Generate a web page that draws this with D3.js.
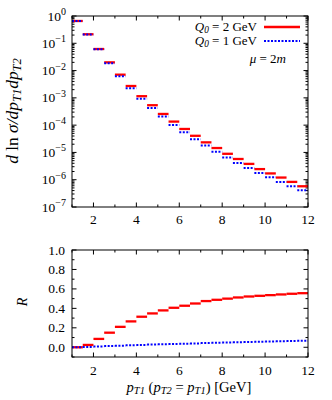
<!DOCTYPE html>
<html><head><meta charset="utf-8">
<script src="https://cdn.jsdelivr.net/npm/d3@7"></script>
<style>
body{margin:0;background:#fff}
svg{display:block}
text{font-family:"Liberation Serif","Times New Roman",serif;fill:#000}
</style>
</head><body>
<svg id="c" width="332" height="400"></svg>
<script>
// ---- data ----
const binLo = [1,1.5,2,2.5,3,3.5,4,4.5,5,5.5,6,6.5,7,7.5,8,8.5,9,9.5,10,10.5,11,11.5];
const binHi = [1.5,2,2.5,3,3.5,4,4.5,5,5.5,6,6.5,7,7.5,8,8.5,9,9.5,10,10.5,11,11.5,12];
const sigmaQ2 = [0.656,0.214,0.0617,0.0200,0.00708,0.00272,0.00115,5.37e-4,2.57e-4,1.35e-4,7.24e-5,4.07e-5,2.34e-5,1.45e-5,8.91e-6,5.75e-6,3.80e-6,2.45e-6,1.70e-6,1.20e-6,8.32e-7,5.75e-7];
const sigmaQ1 = [0.656,0.209,0.0603,0.0186,0.00617,0.00224,9.33e-4,4.27e-4,2.09e-4,1.02e-4,5.50e-5,3.02e-5,1.78e-5,1.05e-5,6.46e-6,4.07e-6,2.69e-6,1.78e-6,1.23e-6,8.32e-7,5.75e-7,4.07e-7];
const ratioQ2 = [0.0,0.024,0.086,0.15,0.21,0.266,0.314,0.348,0.379,0.406,0.427,0.45,0.475,0.488,0.50,0.512,0.522,0.529,0.536,0.543,0.55,0.556];
const ratioQ1 = [0.0,0.004,0.008,0.012,0.016,0.02,0.024,0.028,0.031,0.034,0.037,0.04,0.043,0.046,0.049,0.052,0.055,0.057,0.06,0.062,0.064,0.066];
const xTicks = [2,4,6,8,10,12];
const xMinor = [1,3,5,7,9,11];
const yLogExps = [0,-1,-2,-3,-4,-5,-6,-7];
const rTicks = [0.0,0.2,0.4,0.6,0.8,1.0];
const rMinor = [-0.1,0.1,0.3,0.5,0.7,0.9];
const legendLabels = ["2 GeV","1 GeV"];

// ---- layout ----
const L = 72, R = 308;
const top1 = 16, bot1 = 207;
const top2 = 250, bot2 = 357;
const RED = "#ff0000", BLUE = "#0000ff";
const FS = 13.5;

const svg = d3.select("#c");
const x = d3.scaleLinear().domain([1,12]).range([L,R]);
const y1 = d3.scaleLog().domain([1e-7,1]).range([bot1,top1]);
const y2 = d3.scaleLinear().domain([-0.1,1.0]).range([bot2,top2]);

const g = svg.append("g");

function fit(sel, target){
  const w = sel.node().getBBox().width;
  const fs = parseFloat(sel.attr("font-size"));
  sel.attr("font-size", fs*target/w);
}
function sub(t, s){
  t.append("tspan").attr("dy","0.22em").attr("font-size","0.72em").attr("font-style","italic").text(s);
}
function unsub(t, s, italic){
  const ts = t.append("tspan").attr("dy","-0.16em").text(s);
  if(italic) ts.attr("font-style","italic");
}

function xAxisTicks(yTop, yBot){
  xTicks.forEach(t=>{
    g.append("line").attr("x1",x(t)).attr("x2",x(t)).attr("y1",yBot).attr("y2",yBot-4.5).attr("stroke","#000");
    g.append("line").attr("x1",x(t)).attr("x2",x(t)).attr("y1",yTop).attr("y2",yTop+4.5).attr("stroke","#000");
  });
  xMinor.forEach(t=>{
    g.append("line").attr("x1",x(t)).attr("x2",x(t)).attr("y1",yBot).attr("y2",yBot-2.5).attr("stroke","#000");
    g.append("line").attr("x1",x(t)).attr("x2",x(t)).attr("y1",yTop).attr("y2",yTop+2.5).attr("stroke","#000");
  });
}
function xLabels(yb){
  xTicks.forEach(t=>{
    g.append("text").attr("x",x(t)).attr("y",yb).attr("text-anchor","middle").attr("font-size",FS).text(t);
  });
}

// ---- top panel ----
yLogExps.forEach(e=>{
  const v = Math.pow(10,e);
  const yy = y1(v);
  g.append("line").attr("x1",L).attr("x2",L+4.5).attr("y1",yy).attr("y2",yy).attr("stroke","#000");
  g.append("line").attr("x1",R).attr("x2",R-4.5).attr("y1",yy).attr("y2",yy).attr("stroke","#000");
  if(e>-7){
    for(let k=2;k<=9;k++){
      const ym = y1(k*v/10);
      g.append("line").attr("x1",L).attr("x2",L+2.5).attr("y1",ym).attr("y2",ym).attr("stroke","#000");
      g.append("line").attr("x1",R).attr("x2",R-2.5).attr("y1",ym).attr("y2",ym).attr("stroke","#000");
    }
  }
  const t = g.append("text").attr("x",66).attr("y",yy+4.5).attr("text-anchor","end").attr("font-size",FS);
  t.append("tspan").text("10");
  t.append("tspan").attr("dy",-5.5).attr("font-size",10).text(e===0?"0":"\u2212"+(-e));
});
xAxisTicks(top1,bot1);
xLabels(224);

binLo.forEach((lo,i)=>{
  g.append("line").attr("x1",x(lo)).attr("x2",x(binHi[i])).attr("y1",y1(sigmaQ2[i])).attr("y2",y1(sigmaQ2[i]))
    .attr("stroke",RED).attr("stroke-width",2.3);
});
binLo.forEach((lo,i)=>{
  g.append("line").attr("x1",x(lo)).attr("x2",x(binHi[i])).attr("y1",y1(sigmaQ1[i])).attr("y2",y1(sigmaQ1[i]))
    .attr("stroke",BLUE).attr("stroke-width",2).attr("stroke-dasharray","2,1.5");
});

g.append("rect").attr("x",L).attr("y",top1).attr("width",R-L).attr("height",bot1-top1)
  .attr("fill","none").attr("stroke","#000").attr("stroke-width",1);

// legend
[0,1].forEach(i=>{
  const yy = i===0?27:41;
  const t = g.append("text").attr("x",257).attr("y",yy+4).attr("text-anchor","end").attr("font-size",13);
  t.append("tspan").attr("font-style","italic").text("Q");
  sub(t,"0");
  unsub(t," = "+legendLabels[i]);
  g.append("line").attr("x1",264).attr("x2",300).attr("y1",yy).attr("y2",yy)
    .attr("stroke",i===0?RED:BLUE).attr("stroke-width",i===0?2.3:2).attr("stroke-dasharray",i===0?null:"2,1.5");
});
{
  const t = g.append("text").attr("x",286).attr("y",63).attr("text-anchor","end").attr("font-size",13);
  t.append("tspan").attr("font-style","italic").text("\u03bc");
  t.append("tspan").text(" = 2");
  t.append("tspan").attr("font-style","italic").text("m");
}

// y label top
{
  const t = g.append("text").attr("transform","translate(18,111) rotate(-90)").attr("text-anchor","middle").attr("font-size",FS);
  t.append("tspan").attr("font-style","italic").text("d");
  t.append("tspan").text(" ln ");
  t.append("tspan").attr("font-style","italic").text("\u03c3/dp");
  sub(t,"T1");
  unsub(t,"dp",true);
  sub(t,"T2");
  fit(t,106);
}

// ---- bottom panel ----
rTicks.forEach(v=>{
  const yy = y2(v);
  g.append("line").attr("x1",L).attr("x2",L+4.5).attr("y1",yy).attr("y2",yy).attr("stroke","#000");
  g.append("line").attr("x1",R).attr("x2",R-4.5).attr("y1",yy).attr("y2",yy).attr("stroke","#000");
  g.append("text").attr("x",65).attr("y",yy+4.5).attr("text-anchor","end").attr("font-size",FS).text(v.toFixed(1));
});
rMinor.forEach(v=>{
  const yy = y2(v);
  g.append("line").attr("x1",L).attr("x2",L+2.5).attr("y1",yy).attr("y2",yy).attr("stroke","#000");
  g.append("line").attr("x1",R).attr("x2",R-2.5).attr("y1",yy).attr("y2",yy).attr("stroke","#000");
});
xAxisTicks(top2,bot2);
xLabels(375);

binLo.forEach((lo,i)=>{
  g.append("line").attr("x1",x(lo)).attr("x2",x(binHi[i])).attr("y1",y2(ratioQ2[i])).attr("y2",y2(ratioQ2[i]))
    .attr("stroke",RED).attr("stroke-width",2.3);
});
binLo.forEach((lo,i)=>{
  g.append("line").attr("x1",x(lo)).attr("x2",x(binHi[i])).attr("y1",y2(ratioQ1[i])).attr("y2",y2(ratioQ1[i]))
    .attr("stroke",BLUE).attr("stroke-width",2).attr("stroke-dasharray","2,1.5");
});
g.append("rect").attr("x",L).attr("y",top2).attr("width",R-L).attr("height",bot2-top2)
  .attr("fill","none").attr("stroke","#000").attr("stroke-width",1);

g.append("text").attr("transform","translate(27,302) rotate(-90)").attr("text-anchor","middle")
  .attr("font-size",14).attr("font-style","italic").text("R");

// x label
{
  const t = g.append("text").attr("x",189).attr("y",392).attr("text-anchor","middle").attr("font-size",FS);
  t.append("tspan").attr("font-style","italic").text("p");
  sub(t,"T1");
  unsub(t,"  (");
  t.append("tspan").attr("font-style","italic").text("p");
  sub(t,"T2");
  unsub(t," = ");
  t.append("tspan").attr("font-style","italic").text("p");
  sub(t,"T1");
  unsub(t,") [GeV]");
  fit(t,126);
}
</script>
</body></html>
